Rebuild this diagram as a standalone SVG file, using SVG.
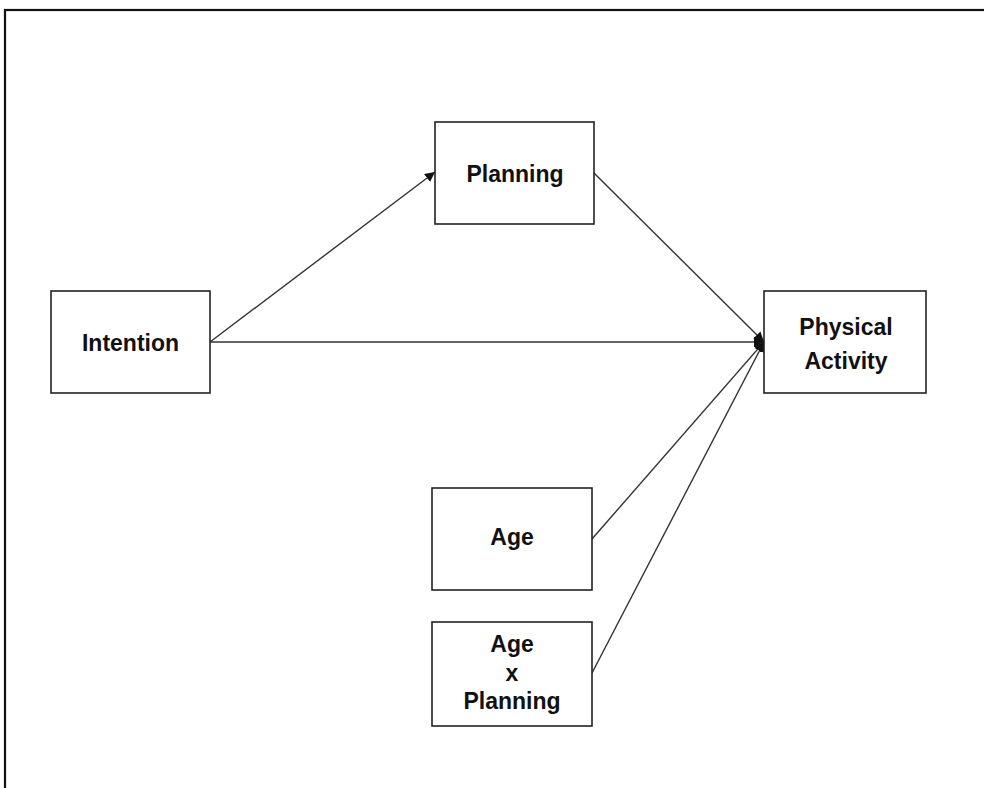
<svg xmlns="http://www.w3.org/2000/svg" width="984" height="788" viewBox="0 0 984 788">
  <style>
    .box { fill: #ffffff; stroke: #222222; stroke-width: 1.6; }
    .lbl { font-family: "Liberation Sans", Arial, sans-serif; font-weight: bold; font-size: 23px; fill: #111111; text-anchor: middle; }
    .edge { fill: none; stroke: #333333; stroke-width: 1.4; marker-end: url(#arrow); }
  </style>
  <defs>
    <marker id="arrow" viewBox="0 0 10 10" refX="10" refY="5" markerWidth="10" markerHeight="10" markerUnits="userSpaceOnUse" orient="auto">
      <path d="M0,0 L10,5 L0,10 z" fill="#111111"/>
    </marker>
  </defs>
  <rect x="0" y="0" width="984" height="788" fill="#ffffff"/>
  <!-- outer frame, running off the right and bottom edges -->
  <rect x="5" y="10" width="1010" height="800" fill="none" stroke="#111111" stroke-width="2.2"/>

  <g id="connectors">
    <line class="edge" x1="210" y1="342" x2="435" y2="172"/>
    <line class="edge" x1="210" y1="342" x2="764" y2="342"/>
    <line class="edge" x1="594" y1="173" x2="764" y2="342"/>
    <line class="edge" x1="592" y1="539" x2="764" y2="342"/>
    <line class="edge" x1="592" y1="673" x2="764" y2="342"/>
  </g>

  <g id="planning">
    <rect class="box" x="435" y="122" width="159" height="102"/>
    <text class="lbl" x="515" y="182">Planning</text>
  </g>
  <g id="intention">
    <rect class="box" x="51" y="291" width="159" height="102"/>
    <text class="lbl" x="130.5" y="351">Intention</text>
  </g>
  <g id="physical-activity">
    <rect class="box" x="764" y="291" width="162" height="102"/>
    <text class="lbl" x="846" y="335">Physical</text>
    <text class="lbl" x="846" y="369">Activity</text>
  </g>
  <g id="age">
    <rect class="box" x="432" y="488" width="160" height="102"/>
    <text class="lbl" x="512" y="545">Age</text>
  </g>
  <g id="age-x-planning">
    <rect class="box" x="432" y="622" width="160" height="104"/>
    <text class="lbl" x="512" y="652">Age</text>
    <text class="lbl" x="512" y="681">x</text>
    <text class="lbl" x="512" y="709">Planning</text>
  </g>
</svg>
